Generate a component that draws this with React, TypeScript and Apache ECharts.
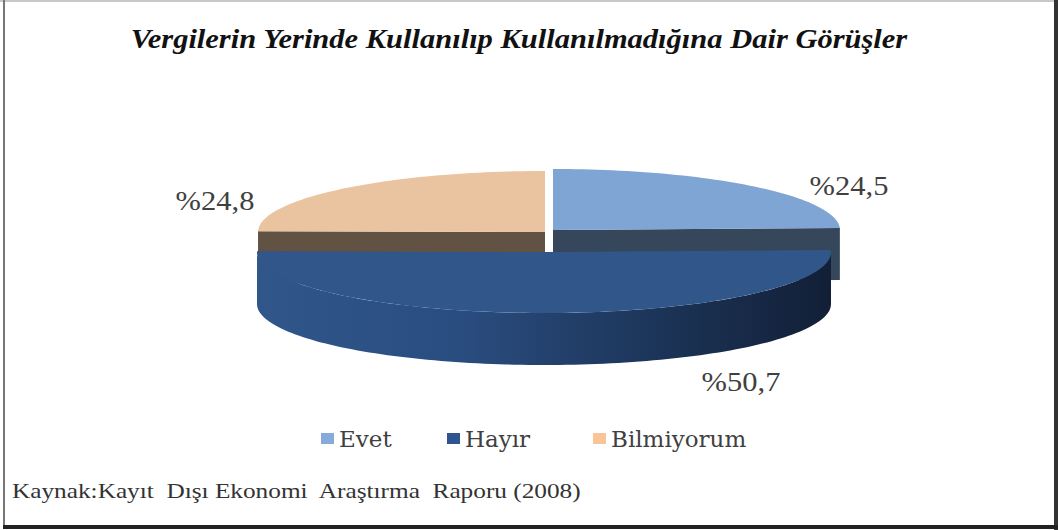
import React, { useEffect, useRef } from "react";
import * as echarts from "echarts";

// ---- data ----
const categories = ["Evet", "Hayır", "Bilmiyorum"];
const values = [24.5, 50.7, 24.8];
const titleText = "Vergilerin Yerinde Kullanılıp Kullanılmadığına Dair Görüşler";
const sourceText = "Kaynak:Kayıt  Dışı Ekonomi  Araştırma  Raporu (2008)";

// ---- layout / style ----
const SERIF = "'Liberation Serif', 'Times New Roman', Tinos, serif";
const STRETCH = 1.13;
const CX = 549;
const CY = 231;
const RX = 287;
const RY = 61;
const DEPTH = 52;
const OFFSETS = [
  [4, -1],
  [-5, 21],
  [-4, 1],
];
const LABEL_POS = [
  [849, 186],
  [741, 382],
  [215, 201],
];
const TOP_COLORS = ["#7EA5D3", "#30568A", "#EAC4A1"];
const FACE_COLORS = ["#36465B", "#1E365C", "#615243"];
const LEGEND_COLORS = ["#86ABDB", "#2F5590", "#F9C496"];
const LEGEND_POS = [
  [321, 427],
  [447, 427],
  [593, 427],
];

function fmt(v: number) {
  return "%" + v.toFixed(1).replace(".", ",");
}

export default function App() {
  const ref = useRef<HTMLDivElement>(null);

  useEffect(() => {
    if (!ref.current) return;
    const chart = echarts.init(ref.current, null, { renderer: "svg" });
    const total = values.reduce((a, b) => a + b, 0);

    const renderItem = (params: any, api: any) => {
      const i = params.seriesIndex;
      let before = 0;
      for (let k = 0; k < i; k++) before += values[k];
      const v = api.value(0);
      const start = (before / total) * Math.PI * 2;
      const end = ((before + v) / total) * Math.PI * 2;
      const cx = CX + OFFSETS[i][0];
      const cy = CY + OFFSETS[i][1];
      const pt = (t: number, dz: number) => [
        cx + RX * Math.sin(t),
        cy - RY * Math.cos(t) + dz,
      ];
      const arc = (a: number, b: number, dz: number) => {
        const n = Math.max(2, Math.ceil(((b - a) / (Math.PI * 2)) * 240));
        const pts: number[][] = [];
        for (let s = 0; s <= n; s++) pts.push(pt(a + ((b - a) * s) / n, dz));
        return pts;
      };
      const children: any[] = [];
      const a = Math.max(start, Math.PI / 2);
      const b = Math.min(end, (Math.PI * 3) / 2);
      if (b > a) {
        const pts = arc(a, b, 0).concat(arc(a, b, DEPTH).reverse());
        children.push({
          type: "polygon",
          shape: { points: pts },
          style: {
            fill: new echarts.graphic.LinearGradient(0, 0, 1, 0, [
              { offset: 0, color: "#30568A" },
              { offset: 0.35, color: "#2A4D80" },
              { offset: 0.7, color: "#1C3458" },
              { offset: 1, color: "#121F36" },
            ]),
          },
        });
      }
      const radial = (t: number) => {
        const p0 = pt(t, 0);
        const p1 = pt(t, DEPTH);
        children.push({
          type: "polygon",
          shape: { points: [[cx, cy], p0, p1, [cx, cy + DEPTH]] },
          style: { fill: FACE_COLORS[i] },
        });
      };
      if (Math.sin(end) > 0.001) radial(end);
      if (Math.sin(start) < -0.001) radial(start);
      children.push({
        type: "polygon",
        shape: { points: [[cx, cy]].concat(arc(start, end, 0)) },
        style: { fill: TOP_COLORS[i] },
      });
      children.push({
        type: "text",
        x: LABEL_POS[i][0],
        y: LABEL_POS[i][1],
        scaleX: STRETCH,
        style: {
          text: fmt(v),
          fill: "#404040",
          fontFamily: SERIF,
          fontSize: 27,
          align: "center",
          verticalAlign: "middle",
        },
      });
      return { type: "group", children };
    };

    chart.setOption({
      animation: false,
      backgroundColor: "#ffffff",
      legend: categories.map((c, i) => ({
        data: [c],
        left: LEGEND_POS[i][0],
        top: LEGEND_POS[i][1],
        padding: 0,
        icon: "rect",
        itemWidth: 13,
        itemHeight: 11,
        selectedMode: false,
        textStyle: {
          fontFamily: "'DejaVu Serif', serif",
          fontSize: 23,
          lineHeight: 22,
          color: "#404040",
        },
      })),
      series: categories.map((c, i) => ({
        type: "custom",
        name: c,
        coordinateSystem: "none",
        z: i === 1 ? 4 : 2,
        itemStyle: { color: LEGEND_COLORS[i] },
        data: [[values[i]]],
        renderItem,
      })),
      graphic: [
        { type: "rect", shape: { x: 0, y: 0, width: 1058, height: 2 }, style: { fill: "#c8c8c8" } },
        { type: "rect", shape: { x: 3, y: 0, width: 2, height: 527 }, style: { fill: "#777777" } },
        { type: "rect", shape: { x: 1054, y: 0, width: 4, height: 530 }, style: { fill: "#333333" } },
        { type: "rect", shape: { x: 3, y: 525, width: 1055, height: 4 }, style: { fill: "#222222" } },
        {
          type: "text",
          x: 519,
          y: 39,
          scaleX: STRETCH,
          style: {
            text: titleText,
            fill: "#111111",
            fontFamily: SERIF,
            fontStyle: "italic",
            fontWeight: "bold",
            fontSize: 27,
            align: "center",
            verticalAlign: "middle",
          },
        },
        {
          type: "text",
          x: 12,
          y: 491,
          scaleX: 1.15,
          style: {
            text: sourceText,
            fill: "#333333",
            fontFamily: SERIF,
            fontSize: 22,
            align: "left",
            verticalAlign: "middle",
          },
        },
      ],
    });
    return () => chart.dispose();
  }, []);

  return (
    <div
      ref={ref}
      style={{ position: "absolute", left: 0, top: 0, width: 1058, height: 530 }}
    />
  );
}
